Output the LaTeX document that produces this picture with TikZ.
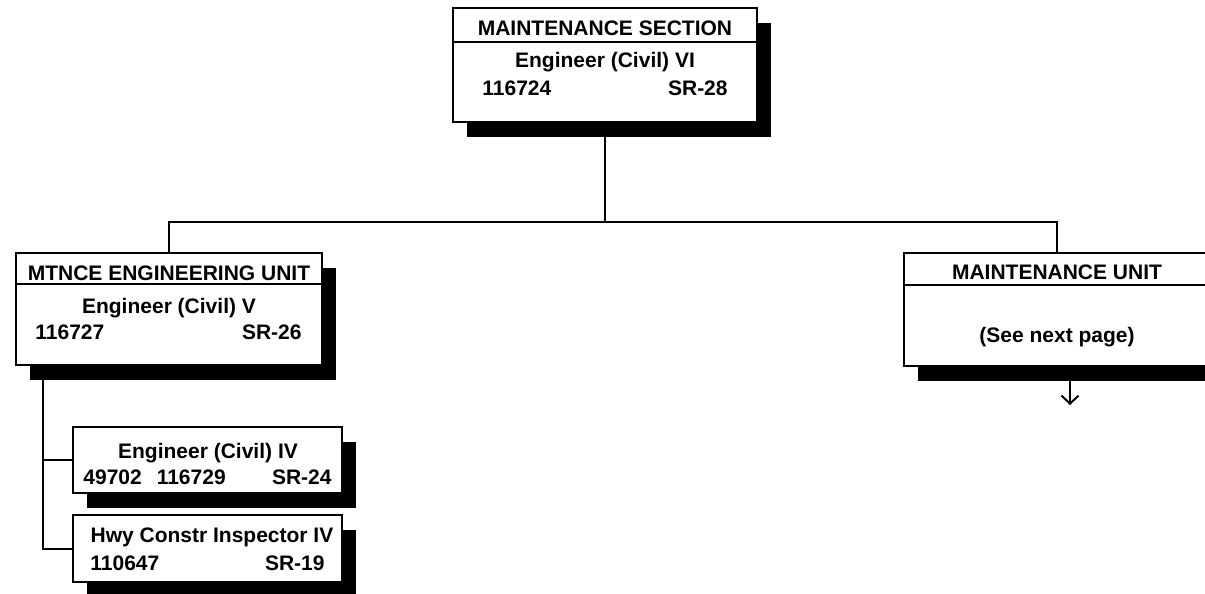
\documentclass[tikz,border=0pt]{standalone}
\usepackage{fontspec}
\setmainfont{Liberation Sans}
\usetikzlibrary{arrows.meta,shadows}

\begin{document}
\begin{tikzpicture}[x=0.5pt, y=-0.5pt,
      post/.style={draw, fill=white, line width=1pt, inner sep=0pt,
                   drop shadow={shadow xshift=7pt, shadow yshift=-7.5pt, fill=black, opacity=1}},
      lbl/.style={inner sep=0pt, font=\fontsize{10.5}{12}\selectfont\bfseries},
      link/.style={line width=1pt},
      arr/.style={link, -{Straight Barb[length=4pt, width=8.5pt]}}]
    \useasboundingbox (0,0) rectangle (1205,594);
    % section head
    \node[post, minimum width=152pt, minimum height=57pt] (sec) at (605,65) {};
    \draw[link] ([yshift=-17.5pt]sec.north west) -- ([yshift=-17.5pt]sec.north east);
    \node[lbl, anchor=base] (sec-t) at (605,35) {MAINTENANCE SECTION};
    \node[lbl, anchor=base] (sec-j) at (605,68) {Engineer (Civil) VI};
    \node[lbl, anchor=base west] (sec-n) at (482,95) {116724};
    \node[lbl, anchor=base east] (sec-g) at (728,95) {SR-28};
    % units
    \node[post, minimum width=153pt, minimum height=56pt] (eng) at (169,309) {};
    \draw[link] ([yshift=-16pt]eng.north west) -- ([yshift=-16pt]eng.north east);
    \node[lbl, anchor=base] (eng-t) at (169,280) {MTNCE ENGINEERING UNIT};
    \node[lbl, anchor=base] (eng-j) at (169,313) {Engineer (Civil) V};
    \node[lbl, anchor=base west] (eng-n) at (35,339) {116727};
    \node[lbl, anchor=base east] (eng-g) at (302,339) {SR-26};
    \node[post, minimum width=153pt, minimum height=56.5pt] (mu) at (1057,309.5) {};
    \draw[link] ([yshift=-16.5pt]mu.north west) -- ([yshift=-16.5pt]mu.north east);
    \node[lbl, anchor=base] (mu-t) at (1057,279) {MAINTENANCE UNIT};
    \node[lbl, anchor=base] (mu-s) at (1057,342) {(See next page)};
    % staff under the engineering unit
    \node[post, minimum width=134.5pt, minimum height=33pt] (e4) at (207.5,460) {};
    \node[lbl, anchor=base] (e4-j) at (208,458) {Engineer (Civil) IV};
    \node[lbl, anchor=base west] (e4-n) at (83,484) {49702\hspace{7.5pt}116729};
    \node[lbl, anchor=base east] (e4-g) at (332,484) {SR-24};
    \node[post, minimum width=134.5pt, minimum height=33.5pt] (hwy) at (207.5,548.5) {};
    \node[lbl, anchor=base] (hwy-j) at (212,542) {Hwy Constr Inspector IV};
    \node[lbl, anchor=base west] (hwy-n) at (90,570) {110647};
    \node[lbl, anchor=base east] (hwy-g) at (325,570) {SR-19};
    % connectors
    \coordinate (bus) at (605,222);
    \coordinate (spine) at (43,366);
    \coordinate (nextpg) at (1070,405);
    \draw[link] (sec.south) -- (bus);
    \draw[link] (eng.north) |- (bus) -| (mu.north);
    \draw[link] (spine) |- (e4.west);
    \draw[link] (spine) |- (hwy.west);
    \draw[arr] (mu.south -| nextpg) -- (nextpg);
  \end{tikzpicture}
\end{document}
